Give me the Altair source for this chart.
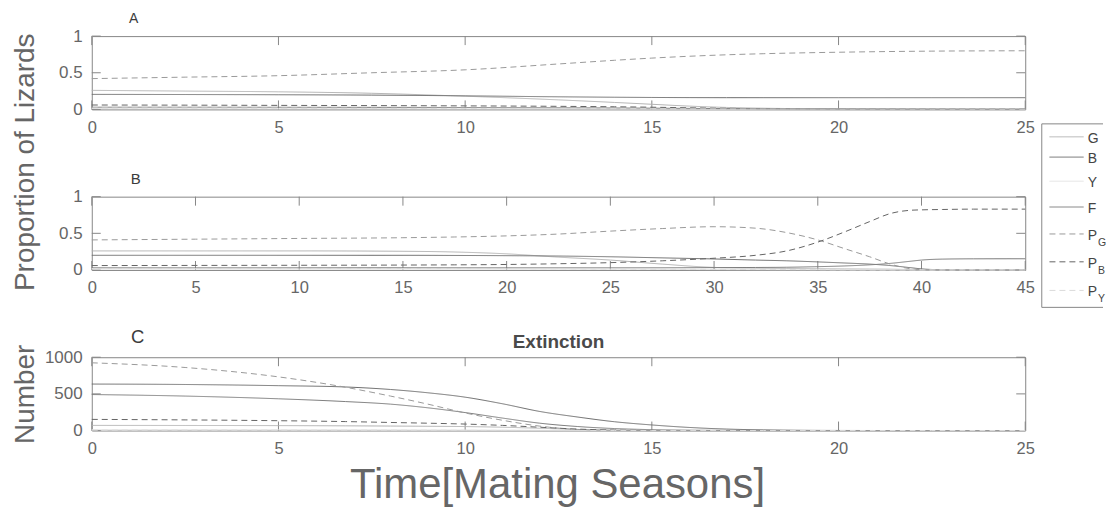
import altair as alt
import pandas as pd

# ---------------- data ----------------
SERIES = ["G", "B", "Y", "F", "PG", "PB", "PY"]
LEG_MAIN = ["G", "B", "Y", "F", "P", "P", "P"]
LEG_SUB = ["", "", "", "", "G", "B", "Y"]

# Panel A (time 0-25, proportions)
tA = [0, 2.5, 5, 7.5, 10, 12.5, 14, 15, 16, 17, 18, 20, 22.5, 25]
A = {
    "G":  [0.26, 0.25, 0.24, 0.22, 0.18, 0.13, 0.095, 0.07, 0.045, 0.027, 0.016, 0.008, 0.004, 0.002],
    "B":  [0.205, 0.203, 0.2, 0.195, 0.185, 0.172, 0.166, 0.163, 0.161, 0.16, 0.16, 0.16, 0.16, 0.16],
    "Y":  [0.012, 0.012, 0.011, 0.011, 0.01, 0.009, 0.008, 0.007, 0.006, 0.005, 0.004, 0.003, 0.002, 0.002],
    "F":  [0.03, 0.03, 0.029, 0.028, 0.026, 0.023, 0.02, 0.017, 0.014, 0.011, 0.009, 0.006, 0.004, 0.003],
    "PG": [0.42, 0.44, 0.46, 0.5, 0.54, 0.62, 0.67, 0.7, 0.725, 0.745, 0.76, 0.78, 0.795, 0.8],
    "PB": [0.06, 0.058, 0.055, 0.052, 0.048, 0.042, 0.036, 0.03, 0.022, 0.015, 0.01, 0.006, 0.004, 0.003],
    "PY": [0.018, 0.018, 0.017, 0.016, 0.015, 0.013, 0.011, 0.01, 0.008, 0.007, 0.006, 0.004, 0.003, 0.002],
}

# Panel B (time 0-45, proportions)
tB = [0, 5, 10, 15, 17.5, 20, 22.5, 25, 27.5, 30, 32, 33.5, 35, 36.3, 37.5, 38.5, 39.5, 40, 41, 42.5, 45]
B = {
    "G":  [0.26, 0.26, 0.26, 0.255, 0.245, 0.22, 0.175, 0.135, 0.08, 0.035, 0.025, 0.02, 0.017, 0.014, 0.012, 0.01, 0.005, 0.002, 0.0, 0.0, 0.0],
    "B":  [0.2, 0.2, 0.2, 0.2, 0.198, 0.195, 0.19, 0.18, 0.165, 0.15, 0.135, 0.125, 0.11, 0.095, 0.08, 0.06, 0.03, 0.015, 0.003, 0.0, 0.0],
    "Y":  [0.012, 0.012, 0.012, 0.012, 0.012, 0.011, 0.01, 0.009, 0.007, 0.005, 0.004, 0.003, 0.002, 0.001, 0.001, 0.0, 0.0, 0.0, 0.0, 0.0, 0.0],
    "F":  [0.03, 0.03, 0.03, 0.03, 0.03, 0.03, 0.03, 0.03, 0.03, 0.032, 0.034, 0.037, 0.045, 0.055, 0.07, 0.09, 0.12, 0.135, 0.148, 0.152, 0.153],
    "PG": [0.41, 0.42, 0.43, 0.44, 0.45, 0.465, 0.49, 0.53, 0.565, 0.59, 0.57, 0.51, 0.41, 0.29, 0.18, 0.08, 0.015, 0.005, 0.0, 0.0, 0.0],
    "PB": [0.06, 0.062, 0.064, 0.067, 0.07, 0.075, 0.085, 0.1, 0.125, 0.16, 0.2, 0.26, 0.38, 0.52, 0.66, 0.77, 0.815, 0.82, 0.825, 0.83, 0.83],
    "PY": [0.02, 0.02, 0.02, 0.02, 0.02, 0.018, 0.016, 0.013, 0.01, 0.008, 0.006, 0.005, 0.004, 0.002, 0.001, 0.0, 0.0, 0.0, 0.0, 0.0, 0.0],
}

# Panel C (time 0-25, numbers)
tC = [0, 2.5, 5, 6.8, 8, 9, 10, 11, 12, 13, 14, 15, 16, 17, 18, 20, 22.5, 25]
C = {
    "G":  [70, 69, 67, 64, 61, 58, 54, 45, 31, 15, 5, 1, 0, 0, 0, 0, 0, 0],
    "B":  [634, 628, 612, 594, 560, 515, 455, 365, 260, 185, 120, 76, 42, 20, 9, 1, 0, 0],
    "Y":  [12, 12, 11, 10, 9, 8, 7, 5, 3, 1, 0, 0, 0, 0, 0, 0, 0, 0],
    "F":  [491, 470, 433, 395, 360, 310, 245, 170, 100, 55, 27, 12, 5, 2, 0, 0, 0, 0],
    "PG": [924, 860, 732, 590, 470, 360, 240, 140, 60, 15, 3, 0, 0, 0, 0, 0, 0, 0],
    "PB": [152, 145, 134, 122, 110, 100, 88, 70, 45, 20, 6, 1, 0, 0, 0, 0, 0, 0],
    "PY": [5, 5, 5, 4, 4, 4, 3, 2, 1, 0, 0, 0, 0, 0, 0, 0, 0, 0],
}

XT_A = [0, 5, 10, 15, 20, 25]
XT_B = [0, 5, 10, 15, 20, 25, 30, 35, 40, 45]
YT_P = [0, 0.5, 1]
YT_N = [0, 500, 1000]

# ---------------- style ----------------
COLORS = ["#b2b2b2", "#6c6c6c", "#e3e3e3", "#7a7a7a", "#9a9a9a", "#646464", "#dadada"]
DASHES = [[1, 0], [1, 0], [1, 0], [1, 0], [6, 4], [6, 4], [6, 4]]
FONT = "Liberation Sans"
TXT = "#666666"
FRAME = "#878787"
W, H = 936, 73.5
TICK = 9


def long_df(t, d):
    rows = []
    for s in SERIES:
        for ti, v in zip(t, d[s]):
            rows.append({"t": ti, "v": v, "s": s})
    return pd.DataFrame(rows)


cscale = alt.Scale(domain=SERIES, range=COLORS)
dscale = alt.Scale(domain=SERIES, range=DASHES)


def text_layer(txt, size, x, y, weight="normal", color="#3c3c3c"):
    return alt.Chart(pd.DataFrame({"txt": [txt]})).mark_text(
        font=FONT, fontSize=size, fontWeight=weight, color=color, align="center",
        baseline="alphabetic").encode(text="txt:N", x=alt.value(x), y=alt.value(y))


def panel(df, xmax, xticks, ymax, yticks, yfmt, label, label_size, label_x, label_y,
          ytitle=None, ytitle_y=None, extra=()):
    xs = alt.Scale(domain=[0, xmax], nice=False, zero=False)
    ys = alt.Scale(domain=[0, ymax], nice=False, zero=False)
    xaxis = alt.Axis(values=xticks, ticks=False, tickSize=0, domain=False, grid=False,
                     labelPadding=10, labelFontSize=16.5, labelColor=TXT, labelFont=FONT,
                     labelFlush=False, labelOverlap=False, format="d", title=None)
    yaxis_kw = dict(values=yticks, ticks=False, tickSize=0, domain=False, grid=False,
                    labelPadding=9.7, labelFontSize=17, labelColor=TXT, labelFont=FONT,
                    labelFlush=False, labelOverlap=False, format=yfmt)
    if ytitle:
        yaxis_kw.update(title=ytitle, titleFontSize=28, titleFontWeight="normal",
                        titleColor=TXT, titleFont=FONT, titleAngle=270,
                        titleAlign="center", titleBaseline="alphabetic",
                        titleX=-58.1, titleY=ytitle_y)
    else:
        yaxis_kw.update(title=None)
    yaxis = alt.Axis(**yaxis_kw)

    lines = alt.Chart(df).mark_line(strokeWidth=1, interpolate="monotone").encode(
        x=alt.X("t:Q", scale=xs, axis=xaxis),
        y=alt.Y("v:Q", scale=ys, axis=yaxis),
        color=alt.Color("s:N", scale=cscale, legend=None),
        strokeDash=alt.StrokeDash("s:N", scale=dscale, legend=None),
    )
    xt = pd.DataFrame({"t": xticks})
    yt = pd.DataFrame({"v": yticks})
    tb = alt.Chart(xt).mark_rule(color=FRAME, strokeWidth=1).encode(
        x=alt.X("t:Q", scale=xs, axis=xaxis), y=alt.value(H), y2=alt.value(H - TICK))
    tt = alt.Chart(xt).mark_rule(color=FRAME, strokeWidth=1).encode(
        x=alt.X("t:Q", scale=xs, axis=xaxis), y=alt.value(0), y2=alt.value(TICK))
    tl = alt.Chart(yt).mark_rule(color=FRAME, strokeWidth=1).encode(
        y=alt.Y("v:Q", scale=ys, axis=yaxis), x=alt.value(0), x2=alt.value(TICK))
    tr = alt.Chart(yt).mark_rule(color=FRAME, strokeWidth=1).encode(
        y=alt.Y("v:Q", scale=ys, axis=yaxis), x=alt.value(W - TICK), x2=alt.value(W))
    lab = text_layer(label, label_size, label_x, label_y)
    return alt.layer(tb, tt, tl, tr, lines, lab, *extra)


# ---------------- legend (drawn in panel A) ----------------
leg = pd.DataFrame({"name": SERIES, "li": list(range(7)), "lab": LEG_MAIN, "sub": LEG_SUB})
ly = alt.Y("li:Q", scale=alt.Scale(type="pow", exponent=1.13, domain=[0, 6], range=[101, 255]),
           axis=None)
leg_lines = alt.Chart(leg).mark_rule(strokeWidth=1).encode(
    x=alt.value(960.3), x2=alt.value(994.6), y=ly,
    color=alt.Color("name:N", scale=cscale, legend=None),
    strokeDash=alt.StrokeDash("name:N", scale=dscale, legend=None))
leg_text = alt.Chart(leg).mark_text(font=FONT, fontSize=14, color="#444444", align="left",
                                     baseline="middle", dy=2).encode(
    x=alt.value(998.6), y=ly, text="lab:N")
leg_sub = alt.Chart(leg).mark_text(font=FONT, fontSize=10.5, color="#444444", align="left",
                                    baseline="middle", dy=9).encode(
    x=alt.value(1009), y=ly, text="sub:N")
one = pd.DataFrame({"k": [0]})
BOX_L, BOX_R, BOX_T, BOX_B = 952.6, 1014, 88, 272
box_top = alt.Chart(one).mark_rule(color=FRAME, strokeWidth=1).encode(
    x=alt.value(BOX_L), x2=alt.value(BOX_R), y=alt.value(BOX_T))
box_bot = alt.Chart(one).mark_rule(color=FRAME, strokeWidth=1).encode(
    x=alt.value(BOX_L), x2=alt.value(BOX_R), y=alt.value(BOX_B))
box_left = alt.Chart(one).mark_rule(color=FRAME, strokeWidth=1).encode(
    x=alt.value(BOX_L), y=alt.value(BOX_T), y2=alt.value(BOX_B))
legend = alt.layer(box_top, box_bot, box_left, leg_lines, leg_text, leg_sub)

pA = panel(long_df(tA, A), 25, XT_A, 1, YT_P, "~g", "A", 14, 42, -13.3,
           ytitle="Proportion of Lizards", ytitle_y=126)
pA = alt.layer(pA, legend).resolve_scale(
    x="independent", y="independent", color="independent", strokeDash="independent"
).properties(width=W, height=H)

pB = panel(long_df(tB, B), 45, XT_B, 1, YT_P, "~g", "B", 15, 44, -12.7).properties(
    width=W, height=H)

extra_c = (
    text_layer("Extinction", 19, W / 2, -9.3, weight="bold", color="#4a4a4a"),
    text_layer("Time[Mating Seasons]", 42, W / 2 - 1, 141, color=TXT),
)
pC = panel(long_df(tC, C), 25, XT_A, 1000, YT_N, "d", "C", 18.5, 46, -14.3,
           ytitle="Number", ytitle_y=H / 2, extra=extra_c).properties(width=W, height=H)

chart = alt.vconcat(pA, pB, pC, spacing=87, bounds="flush").properties(
    padding={"left": 3, "top": 2.5, "right": 0, "bottom": 0}
).configure(font=FONT).configure_view(stroke=FRAME, strokeWidth=1)

chart.save("out.html", embed_options={"renderer": "svg", "actions": False})
